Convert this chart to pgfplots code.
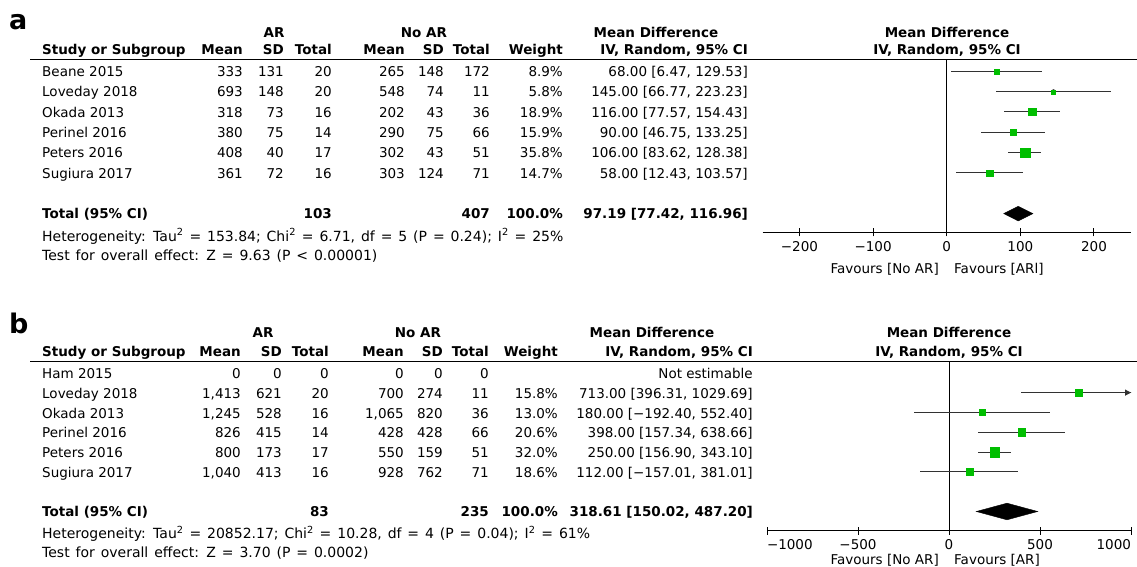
\documentclass[border=0pt]{standalone}
\usepackage{fontspec}
\setmainfont{DejaVu Sans}
\usepackage{pgfplots}
\usepackage{pgfplotstable}
\pgfplotsset{compat=1.18}
\usetikzlibrary{arrows.meta}

\definecolor{fpgreen}{RGB}{0,190,0}
\definecolor{ciline}{RGB}{50,50,50}

% Panel a: AR vs No AR, mean difference (IV, random, 95% CI)
% row = vertical slot counted from the bottom (1 = pooled total)
\pgfplotstableread{
row md lo hi w
8 68.00 6.47 129.53 8.9
7 145.00 66.77 223.23 5.8
6 116.00 77.57 154.43 18.9
5 90.00 46.75 133.25 15.9
4 106.00 83.62 128.38 35.8
3 58.00 12.43 103.57 14.7
}\studiesA
\pgfplotstableread{
x y
77.42 1
97.19 1.36
116.96 1
97.19 0.64
}\pooledA

% Panel b
\pgfplotstableread{
row md lo hi w
7 713.00 396.31 1029.69 15.8
6 180.00 -192.40 552.40 13.0
5 398.00 157.34 638.66 20.6
4 250.00 156.90 343.10 32.0
3 112.00 -157.01 381.01 18.6
}\studiesB
\pgfplotstableread{
x y
150.02 1
318.61 1.42
487.20 1
318.61 0.58
}\pooledB

\newcommand\tf{\fontsize{13.5}{16}\selectfont}
% footnote lines under each table are set a touch wider
\newcommand\nf{\fontsize{14}{16}\selectfont\spaceskip=5.9pt plus 1pt}

\pgfplotsset{
  forest/.style={
    scale only axis,
    axis x line*=bottom,
    axis y line=none,
    x axis line style={line width=1pt},
    tick align=center,
    major tick length=8pt,
    tick style={black, line width=1pt},
    xtick pos=bottom,
    xticklabel style={font=\tf, inner sep=0pt, yshift=-5pt},
    clip=true,
  },
  ci/.style={only marks, mark=none, forget plot,
    error bars/.cd, x dir=both, x explicit, error mark=none,
    error bar style={ciline, line width=1pt}},
  boxes/.style={only marks, mark=square*, forget plot,
    visualization depends on={0.83*sqrt(\thisrow{w}) \as \msize},
    scatter, scatter/use mapped color={draw=fpgreen, fill=fpgreen},
    scatter/@pre marker code/.append style={/tikz/mark size=\msize},
    mark options={line width=0.2pt}},
}

% one study line of the table: y, name, mean, sd, n, mean, sd, n, weight
\newcommand\trow[9]{%
  \node[anchor=base west] at (42,#1) {#2};
  \node[anchor=base east] at (\cA,#1) {#3};
  \node[anchor=base east] at (\cB,#1) {#4};
  \node[anchor=base east] at (\cC,#1) {#5};
  \node[anchor=base east] at (\cD,#1) {#6};
  \node[anchor=base east] at (\cE,#1) {#7};
  \node[anchor=base east] at (\cF,#1) {#8};
  \node[anchor=base east] at (\cG,#1) {#9};
}
\newcommand\hdr[2]{%
  \node[anchor=base west] at (42,#1) {\bfseries Study or Subgroup};
  \node[anchor=base east] at (\cA,#1) {\bfseries Mean};
  \node[anchor=base east] at (\cB,#1) {\bfseries SD};
  \node[anchor=base east] at (\cC,#1) {\bfseries Total};
  \node[anchor=base east] at (\cD,#1) {\bfseries Mean};
  \node[anchor=base east] at (\cE,#1) {\bfseries SD};
  \node[anchor=base east] at (\cF,#1) {\bfseries Total};
  \node[anchor=base east] at (\cG,#1) {\bfseries Weight};
  \node[anchor=base east] at (\cH,#1) {\bfseries IV, Random, 95\% CI};
  \node[anchor=base] at (#2,#1) {\bfseries IV, Random, 95\% CI};
}

\begin{document}
\begin{tikzpicture}[every node/.style={inner sep=0pt, font=\tf}]
\useasboundingbox (0pt,0pt) rectangle (1137pt,-566pt);

%% ---------------- panel a ----------------
\begin{scope}[x=1pt, y=-1pt]
\def\cA{243}\def\cB{284}\def\cC{332}\def\cD{405}\def\cE{444}
\def\cF{490}\def\cG{563}\def\cH{748}
\node[anchor=base west, font=\fontsize{27}{29}\selectfont\bfseries] at (9,29) {a};
\node[anchor=base, font=\tf\bfseries] at (274,37) {AR};
\node[anchor=base, font=\tf\bfseries] at (424,37) {No AR};
\node[anchor=base, font=\tf\bfseries] at (656,37) {Mean Difference};
\node[anchor=base, font=\tf\bfseries] at (947,37) {Mean Difference};
\hdr{54.5}{947}
\draw[line width=1.3pt] (30,59.3) -- (1137,59.3);

\trow{76.5}{Beane 2015}{333}{131}{20}{265}{148}{172}{8.9\%}
\trow{96.8}{Loveday 2018}{693}{148}{20}{548}{74}{11}{5.8\%}
\trow{117.1}{Okada 2013}{318}{73}{16}{202}{43}{36}{18.9\%}
\trow{137.5}{Perinel 2016}{380}{75}{14}{290}{75}{66}{15.9\%}
\trow{157.8}{Peters 2016}{408}{40}{17}{302}{43}{51}{35.8\%}
\trow{178.1}{Sugiura 2017}{361}{72}{16}{303}{124}{71}{14.7\%}
\node[anchor=base east] at (\cH,76.5) {68.00 [6.47, 129.53]};
\node[anchor=base east] at (\cH,96.8) {145.00 [66.77, 223.23]};
\node[anchor=base east] at (\cH,117.1) {116.00 [77.57, 154.43]};
\node[anchor=base east] at (\cH,137.5) {90.00 [46.75, 133.25]};
\node[anchor=base east] at (\cH,157.8) {106.00 [83.62, 128.38]};
\node[anchor=base east] at (\cH,178.1) {58.00 [12.43, 103.57]};

\begin{scope}[every node/.append style={font=\tf\bfseries}]
\node[anchor=base west] at (42,218) {Total (95\% CI)};
\node[anchor=base east] at (\cC,218) {103};
\node[anchor=base east] at (\cF,218) {407};
\node[anchor=base east] at (\cG,218) {100.0\%};
\node[anchor=base east] at (\cH,218) {97.19 [77.42, 116.96]};
\end{scope}
\node[anchor=base west, font=\nf] at (42,241) {Heterogeneity: Tau\textsuperscript{2} = 153.84; Chi\textsuperscript{2} = 6.71, df = 5 (P = 0.24); I\textsuperscript{2} = 25\%};
\node[anchor=base west, font=\nf] at (42,260.5) {Test for overall effect: Z = 9.63 (P < 0.00001)};
\node[anchor=base east] at (939,273) {Favours [No AR]};
\node[anchor=base west] at (954,273) {Favours [ARl]};
\end{scope}

\begin{axis}[forest, at={(762.6pt,-232.3pt)}, anchor=south west,
  width=368.2pt, height=173pt,
  xmin=-250, xmax=250, ymin=0.08, ymax=8.59,
  xtick={-200,-100,0,100,200},
  xticklabels={−200,−100,0,100,200}]
  \addplot[black, line width=1pt, forget plot] coordinates {(0,0.08) (0,8.59)};
  \addplot[ci] table[x=md, y=row,
    x error plus expr=\thisrow{hi}-\thisrow{md},
    x error minus expr=\thisrow{md}-\thisrow{lo}] \studiesA;
  \addplot[boxes] table[x=md, y=row] \studiesA;
  \addplot[fill=black, draw=black, forget plot] table[x=x, y=y] \pooledA -- cycle;
\end{axis}

%% ---------------- panel b ----------------
\begin{scope}[x=1pt, y=-1pt]
\def\cA{241}\def\cB{282}\def\cC{329}\def\cD{404}\def\cE{443}
\def\cF{489}\def\cG{558}\def\cH{753}
\node[anchor=base west, font=\fontsize{27}{29}\selectfont\bfseries] at (9,333) {b};
\node[anchor=base, font=\tf\bfseries] at (263,337) {AR};
\node[anchor=base, font=\tf\bfseries] at (418,337) {No AR};
\node[anchor=base, font=\tf\bfseries] at (652,337) {Mean Difference};
\node[anchor=base, font=\tf\bfseries] at (949,337) {Mean Difference};
\hdr{356}{949}
\draw[line width=1.3pt] (30,361.5) -- (1137,361.5);

\trow{378.5}{Ham 2015}{0}{0}{0}{0}{0}{0}{}
\trow{398.2}{Loveday 2018}{1,413}{621}{20}{700}{274}{11}{15.8\%}
\trow{418}{Okada 2013}{1,245}{528}{16}{1,065}{820}{36}{13.0\%}
\trow{437.7}{Perinel 2016}{826}{415}{14}{428}{428}{66}{20.6\%}
\trow{457.5}{Peters 2016}{800}{173}{17}{550}{159}{51}{32.0\%}
\trow{477.2}{Sugiura 2017}{1,040}{413}{16}{928}{762}{71}{18.6\%}
\node[anchor=base east] at (\cH,378.5) {Not estimable};
\node[anchor=base east] at (\cH,398.2) {713.00 [396.31, 1029.69]};
\node[anchor=base east] at (\cH,418) {180.00 [−192.40, 552.40]};
\node[anchor=base east] at (\cH,437.7) {398.00 [157.34, 638.66]};
\node[anchor=base east] at (\cH,457.5) {250.00 [156.90, 343.10]};
\node[anchor=base east] at (\cH,477.2) {112.00 [−157.01, 381.01]};

\begin{scope}[every node/.append style={font=\tf\bfseries}]
\node[anchor=base west] at (42,516) {Total (95\% CI)};
\node[anchor=base east] at (\cC,516) {83};
\node[anchor=base east] at (\cF,516) {235};
\node[anchor=base east] at (\cG,516) {100.0\%};
\node[anchor=base east] at (\cH,516) {318.61 [150.02, 487.20]};
\end{scope}
\node[anchor=base west, font=\nf] at (42,538.5) {Heterogeneity: Tau\textsuperscript{2} = 20852.17; Chi\textsuperscript{2} = 10.28, df = 4 (P = 0.04); I\textsuperscript{2} = 61\%};
\node[anchor=base west, font=\nf] at (42,557.5) {Test for overall effect: Z = 3.70 (P = 0.0002)};
\node[anchor=base east] at (939,564.5) {Favours [No AR]};
\node[anchor=base west] at (954,564.5) {Favours [AR]};
\end{scope}

\begin{axis}[forest, at={(767pt,-530.7pt)}, anchor=south west,
  width=364pt, height=169.2pt,
  xmin=-1000, xmax=1000, ymin=0.03, ymax=8.57,
  xtick={-1000,-500,0,500,1000},
  xticklabels={\makebox[0pt][l]{−1000},−500,0,500,\makebox[0pt][r]{1000}}]
  \addplot[black, line width=1pt, forget plot] coordinates {(0,0.03) (0,8.57)};
  \addplot[ci] table[x=md, y=row,
    x error plus expr=\thisrow{hi}-\thisrow{md},
    x error minus expr=\thisrow{md}-\thisrow{lo}] \studiesB;
  % interval running past the axis end is closed by an arrow head
  \addplot[ciline, line width=1pt, -{Stealth[length=6pt, width=6pt, inset=0pt]}, forget plot]
    coordinates {(396.31,7) (1000,7)};
  \addplot[boxes] table[x=md, y=row] \studiesB;
  \addplot[fill=black, draw=black, forget plot] table[x=x, y=y] \pooledB -- cycle;
\end{axis}
\end{tikzpicture}
\end{document}
